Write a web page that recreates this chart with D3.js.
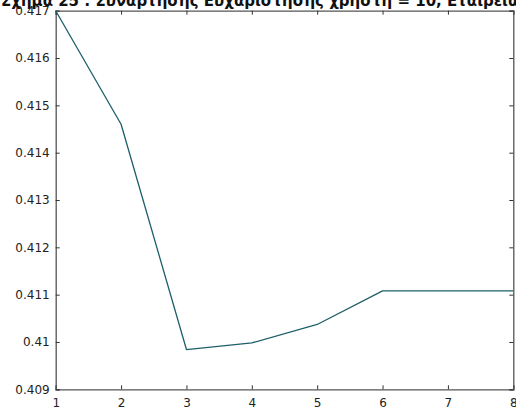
<!DOCTYPE html>
<html>
<head>
<meta charset="utf-8">
<script src="https://cdn.jsdelivr.net/npm/d3@7"></script>
<style>
  html, body { margin: 0; padding: 0; background: #fff; overflow: hidden; }
  svg { display: block; }
  .tick text { font-family: "DejaVu Sans", sans-serif; font-size: 12px; fill: #222; }
</style>
</head>
<body>
<div id="chart"></div>
<script>
// Iterations and the satisfaction value reached at each one
const iterations = [1, 2, 3, 4, 5, 6, 7, 8];
const satisfaction = [0.417, 0.4146, 0.40984, 0.40998, 0.41037, 0.41108, 0.41108, 0.41108];
const xTicks = [1, 2, 3, 4, 5, 6, 7, 8];
const yTicks = [0.409, 0.41, 0.411, 0.412, 0.413, 0.414, 0.415, 0.416, 0.417];
const titleText = "Σχήμα 25 : Συνάρτησης Ευχαρίστησης χρήστη = 10, Εταιρεία 1";

const W = 516, H = 411;
const m = { left: 55.7, right: 513.3, top: 10.7, bottom: 389.3 };

const svg = d3.select("#chart").append("svg")
  .attr("width", W).attr("height", H);

const x = d3.scaleLinear().domain([1, 8]).range([m.left, m.right]);
const y = d3.scaleLinear().domain([0.409, 0.417]).range([m.bottom, m.top]);

const fmt = d => String(+d.toFixed(3));
const axisColor = "#555";

// bottom axis with labels, ticks pointing inward
const gx = svg.append("g").attr("transform", `translate(0,${m.bottom})`)
  .call(d3.axisBottom(x).tickValues(xTicks).tickFormat(d3.format("d")).tickSize(-4).tickPadding(9));
// left axis with labels
const gy = svg.append("g").attr("transform", `translate(${m.left},0)`)
  .call(d3.axisLeft(y).tickValues(yTicks).tickFormat(fmt).tickSize(-4).tickPadding(6));
// top and right mirror axes without labels
const gt = svg.append("g").attr("transform", `translate(0,${m.top})`)
  .call(d3.axisTop(x).tickValues(xTicks).tickFormat("").tickSize(-4));
const gr = svg.append("g").attr("transform", `translate(${m.right},0)`)
  .call(d3.axisRight(y).tickValues(yTicks).tickFormat("").tickSize(-4));

[gx, gy, gt, gr].forEach(g => {
  g.select(".domain").attr("stroke", axisColor).attr("stroke-width", 1.3);
  g.selectAll(".tick line").attr("stroke", "#333").attr("stroke-width", 1);
});

// the satisfaction curve
const line = d3.line().x((d, i) => x(iterations[i])).y(d => y(d));
svg.append("path")
  .datum(satisfaction)
  .attr("fill", "none")
  .attr("stroke", "#1d5f69")
  .attr("stroke-width", 1.3)
  .attr("stroke-linejoin", "round")
  .attr("d", line);

// title
svg.append("text")
  .attr("x", 1).attr("y", 6)
  .attr("font-family", "DejaVu Sans, sans-serif")
  .attr("font-weight", "bold")
  .attr("font-size", 15)
  .attr("fill", "#111")
  .text(titleText);
</script>
</body>
</html>
